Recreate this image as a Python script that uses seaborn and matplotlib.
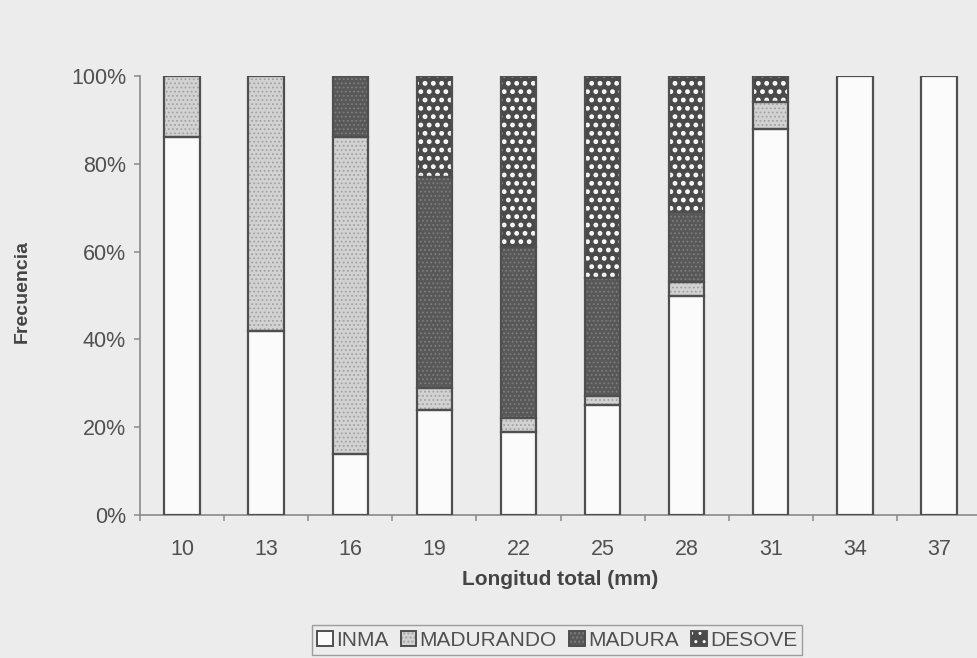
import numpy as np
import pandas as pd
import matplotlib
matplotlib.use("Agg")
import matplotlib.pyplot as plt
import seaborn as sns
from matplotlib.patches import Patch, Rectangle
from matplotlib.ticker import PercentFormatter, FixedLocator

# Maturity stage frequencies (%) by total length class
categories = ["10", "13", "16", "19", "22", "25", "28", "31", "34", "37"]
inma = [86, 42, 14, 24, 19, 25, 50, 88, 100, 100]
madurando = [14, 58, 72, 5, 3, 2, 3, 6, 0, 0]
madura = [0, 0, 14, 48, 39, 27, 16, 0, 0, 0]
desove = [0, 0, 0, 23, 39, 46, 31, 6, 0, 0]

series_names = ["INMA", "MADURANDO", "MADURA", "DESOVE"]
series_values = [inma, madurando, madura, desove]

# fill colour, hatch pattern, hatch colour, hatch line width for each stage
styles = {
    "INMA": ("#fbfbfb", None, "#fbfbfb", 0.8),
    "MADURANDO": ("#d2d2d2", "....", "#a2a2a2", 0.8),
    "MADURA": ("#585858", "....", "#7e7e7e", 0.8),
    "DESOVE": ("#4a4a4a", "..", "#ffffff", 2.2),
}

bg = "#ececec"
edge = "#4f4f4f"
text_col = "#505050"

sns.set_theme(style="white")
plt.rcParams["font.family"] = ["Liberation Sans", "DejaVu Sans"]

fig = plt.figure(figsize=(9.77, 6.58), dpi=100, facecolor=bg)
W, H = 977, 658
ax = fig.add_axes([140 / W, 1 - 515 / H, (981 - 140) / W, (515 - 76) / H])
ax.set_facecolor(bg)

bottom = np.zeros(len(categories))
for name, vals in zip(series_names, series_values):
    face, hatch, hcol, hlw = styles[name]
    df = pd.DataFrame({"Longitud": categories, "Frecuencia": vals})
    kw = dict(hatch=hatch) if hatch else {}
    with plt.rc_context({"hatch.linewidth": hlw}):
        sns.barplot(data=df, x="Longitud", y="Frecuencia", order=categories,
                    color=face, width=0.42, errorbar=None, bottom=bottom.copy(),
                    edgecolor=hcol, linewidth=0, saturation=1, ax=ax, **kw)
    bottom += np.array(vals, dtype=float)

# dark outlines around each stacked segment
for p in list(ax.patches):
    if p.get_height() > 0:
        ax.add_patch(Rectangle(p.get_xy(), p.get_width(), p.get_height(),
                               fill=False, edgecolor=edge, linewidth=1.6, zorder=3))

ax.set_xlim(-0.5, 9.5)
ax.set_ylim(0, 100)
ax.yaxis.set_major_locator(FixedLocator([0, 20, 40, 60, 80, 100]))
ax.yaxis.set_major_formatter(PercentFormatter(xmax=100, decimals=0))

for s in ["top", "right"]:
    ax.spines[s].set_visible(False)
for s in ["left", "bottom"]:
    ax.spines[s].set_color("#8a8a8a")
    ax.spines[s].set_linewidth(1.2)

ax.tick_params(axis="y", which="major", length=4, width=1.1, color="#8a8a8a",
               labelsize=15.5, labelcolor=text_col, pad=6, left=True)
ax.tick_params(axis="x", which="major", length=0, labelsize=15.5,
               labelcolor=text_col, pad=17)
ax.xaxis.set_minor_locator(FixedLocator(np.arange(-0.5, 10, 1.0)))
ax.tick_params(axis="x", which="minor", length=4, width=1.1, color="#8a8a8a",
               bottom=True)

ax.set_xlabel("Longitud total (mm)", fontsize=15, fontweight="bold", color="#444444")
ax.xaxis.set_label_coords(0.5, -0.125)
ax.set_ylabel("Frecuencia", fontsize=14, fontweight="bold", color="#444444")
ax.yaxis.set_label_coords(-0.13, 0.51)

handles = []
for name in series_names:
    face, hatch, hcol, hlw = styles[name]
    with plt.rc_context({"hatch.linewidth": hlw * 0.6}):
        fillp = Patch(facecolor=face, edgecolor=hcol, hatch=hatch, linewidth=0)
    outl = Patch(facecolor="none", edgecolor=edge, linewidth=1.4)
    handles.append((fillp, outl))

leg = fig.legend(handles, series_names, loc="center",
                 bbox_to_anchor=(557 / W, 1 - 640 / H), ncol=4, frameon=True,
                 fontsize=15, handlelength=0.75, handleheight=0.75,
                 handletextpad=0.15, columnspacing=0.6, borderpad=0.25,
                 fancybox=False, labelcolor=text_col)
leg.get_frame().set_edgecolor("#8a8a8a")
leg.get_frame().set_facecolor(bg)
leg.get_frame().set_linewidth(1.0)

fig.savefig("out.png", dpi=100, facecolor=bg)
